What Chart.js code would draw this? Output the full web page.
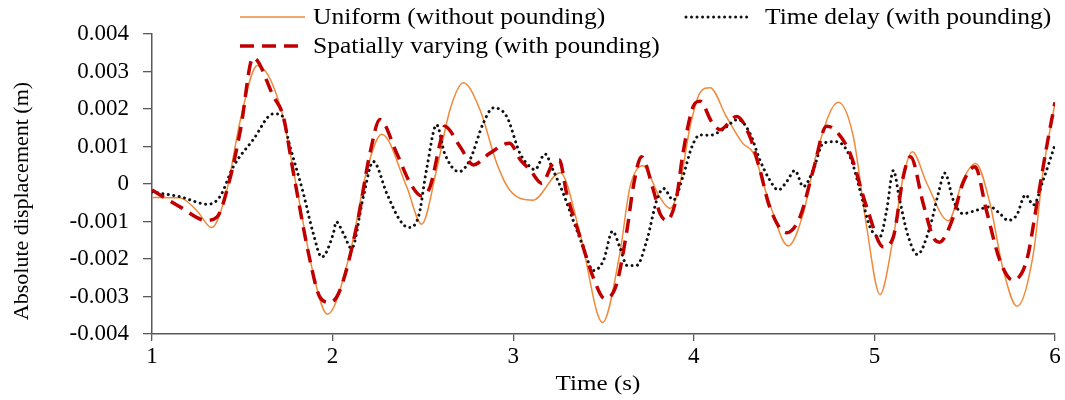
<!DOCTYPE html>
<html>
<head>
<meta charset="utf-8">
<script src="https://cdn.jsdelivr.net/npm/chart.js@4.4.1/dist/chart.umd.min.js"></script>
<style>
html,body{margin:0;padding:0;background:#fff;}
#wrap{width:1065px;height:400px;position:relative;}
</style>
</head>
<body>
<div id="wrap"><canvas id="c"></canvas></div>
<script>
// ---- data (time in s, absolute displacement in m) ----
const xTickValues = [1, 2, 3, 4, 5, 6];
const yTickLabels = ['-0.004', '-0.003', '-0.002', '-0.001', '0', '0.001', '0.002', '0.003', '0.004'];
const seriesNames = ['Uniform (without pounding)', 'Time delay (with pounding)', 'Spatially varying (with pounding)'];

const uniformT = [1.00, 1.155, 1.25, 1.33, 1.41, 1.49, 1.583, 1.71, 1.80, 1.893, 1.971, 2.096, 2.19, 2.272, 2.41, 2.493, 2.576, 2.65, 2.724, 2.816, 2.909, 2.98, 3.11, 3.26, 3.37, 3.495, 3.59, 3.647, 3.717, 3.81, 3.868, 3.92, 3.98, 4.034, 4.09, 4.18, 4.27, 4.33, 4.42, 4.523, 4.606, 4.68, 4.80, 4.883, 4.957, 5.031, 5.105, 5.16, 5.21, 5.29, 5.41, 5.49, 5.56, 5.64, 5.71, 5.79, 5.88, 5.935, 6.0];
const uniformY = [-0.00036, -0.00037, -0.00072, -0.00116, -0.00025, 0.00172, 0.00316, 0.00207, -0.00007, -0.00239, -0.00347, -0.00185, 0.00038, 0.00133, -0.00007, -0.00107, 0.00038, 0.00198, 0.00270, 0.00198, 0.00055, -0.00016, -0.00043, 0.00030, -0.00132, -0.00369, -0.00186, -0.00007, 0.00049, -0.00034, -0.00065, -0.00007, 0.00154, 0.00243, 0.00257, 0.00180, 0.00109, 0.00082, -0.00052, -0.00165, -0.00079, 0.00082, 0.00218, 0.00127, -0.00114, -0.00295, -0.00141, 0.00020, 0.00086, 0.00002, -0.00098, 0.00011, 0.00055, -0.00052, -0.00222, -0.00326, -0.00186, 0.00038, 0.00216];

const delayT = [1.00, 1.155, 1.31, 1.376, 1.45, 1.56, 1.672, 1.715, 1.764, 1.838, 1.893, 1.94, 2.004, 2.02, 2.06, 2.105, 2.17, 2.225, 2.30, 2.373, 2.42, 2.475, 2.52, 2.576, 2.62, 2.70, 2.76, 2.835, 2.89, 2.964, 3.037, 3.093, 3.12, 3.176, 3.22, 3.277, 3.332, 3.388, 3.443, 3.50, 3.55, 3.59, 3.63, 3.684, 3.74, 3.795, 3.832, 3.887, 3.94, 3.99, 4.034, 4.09, 4.16, 4.245, 4.31, 4.366, 4.42, 4.468, 4.514, 4.56, 4.606, 4.662, 4.717, 4.79, 4.865, 4.92, 4.975, 5.03, 5.068, 5.105, 5.14, 5.188, 5.238, 5.308, 5.354, 5.39, 5.437, 5.49, 5.566, 5.64, 5.695, 5.74, 5.788, 5.837, 5.88, 5.935, 6.0];
const delayY = [-0.00021, -0.00034, -0.00054, -0.00034, 0.00046, 0.00118, 0.00187, 0.00185, 0.00100, -0.00025, -0.00132, -0.00195, -0.00132, -0.00101, -0.00132, -0.00172, -0.00034, 0.00060, -0.00025, -0.00097, -0.00116, -0.00088, 0.00038, 0.00158, 0.00082, 0.00033, 0.00064, 0.00163, 0.00203, 0.00180, 0.00082, 0.00046, 0.00038, 0.00080, 0.00038, -0.00025, -0.00097, -0.00168, -0.00231, -0.00204, -0.00126, -0.00168, -0.00217, -0.00217, -0.00150, -0.00043, -0.00012, -0.00043, 0.00020, 0.00100, 0.00131, 0.00130, 0.00145, 0.00172, 0.00136, 0.00064, 0.00011, -0.00016, 0.00006, 0.00036, -0.00007, 0.00038, 0.00109, 0.00113, 0.00073, -0.00016, -0.00114, -0.00141, -0.00070, 0.00036, -0.00043, -0.00141, -0.00188, -0.00114, -0.00025, 0.00029, -0.00043, -0.00079, -0.00070, -0.00061, -0.00079, -0.00097, -0.00083, -0.00029, -0.00056, 0.00011, 0.00105];

const spatialT = [1.00, 1.155, 1.30, 1.36, 1.43, 1.49, 1.56, 1.672, 1.727, 1.78, 1.875, 1.93, 1.986, 2.04, 2.133, 2.207, 2.262, 2.355, 2.43, 2.493, 2.54, 2.595, 2.62, 2.705, 2.78, 2.87, 2.98, 3.04, 3.093, 3.158, 3.22, 3.255, 3.296, 3.37, 3.443, 3.508, 3.573, 3.63, 3.665, 3.71, 3.776, 3.813, 3.85, 3.905, 3.94, 3.997, 4.034, 4.10, 4.145, 4.237, 4.31, 4.366, 4.42, 4.514, 4.588, 4.662, 4.735, 4.78, 4.865, 4.957, 5.05, 5.105, 5.16, 5.20, 5.27, 5.325, 5.36, 5.43, 5.49, 5.557, 5.62, 5.695, 5.766, 5.843, 5.90, 5.954, 6.0];
const spatialY = [-0.00016, -0.00061, -0.00097, -0.00088, 0.00011, 0.00145, 0.00337, 0.00234, 0.00180, 0.00038, -0.00204, -0.00302, -0.00316, -0.00284, -0.00114, 0.00082, 0.00172, 0.00082, 0.00002, -0.00032, -0.00007, 0.00109, 0.00154, 0.00100, 0.00051, 0.00082, 0.00109, 0.00064, 0.00038, 0.00002, 0.00055, 0.00064, -0.00025, -0.00141, -0.00249, -0.00306, -0.00266, -0.00123, -0.00007, 0.00073, -0.00016, -0.00079, -0.00097, -0.00034, 0.00082, 0.00207, 0.00221, 0.00165, 0.00145, 0.00180, 0.00127, 0.00038, -0.00061, -0.00130, -0.00088, 0.00038, 0.00154, 0.00145, 0.00082, -0.00061, -0.00168, -0.00141, 0.00020, 0.00073, -0.00052, -0.00141, -0.00155, -0.00097, 0.00002, 0.00046, -0.00070, -0.00204, -0.00256, -0.00204, -0.00052, 0.00100, 0.00218];

const toPts = (xs, ys) => xs.map((x, i) => ({ x: x, y: ys[i] }));

const FONT = '"Liberation Serif", "Times New Roman", serif';
const AXIS_COLOR = '#595959';

function stretchedText(ctx, text, x, y, size, sx, align) {
  ctx.save();
  ctx.translate(x, y);
  ctx.scale(sx, 1);
  ctx.font = size + 'px ' + FONT;
  ctx.fillStyle = '#000';
  ctx.textAlign = align;
  ctx.textBaseline = 'middle';
  ctx.fillText(text, 0, 0);
  ctx.restore();
}

const decorPlugin = {
  id: 'decor',
  afterDraw(chart) {
    const ctx = chart.ctx;
    const ds = chart.data.datasets;
    // legend
    const items = [
      { d: ds[0], x0: 240, x1: 305, y: 17, tx: 313 },
      { d: ds[1], x0: 686, x1: 752, y: 17, tx: 765 },
      { d: ds[2], x0: 240, x1: 305, y: 46, tx: 313 }
    ];
    items.forEach(it => {
      ctx.save();
      ctx.strokeStyle = it.d.borderColor;
      ctx.lineWidth = it.d.borderWidth;
      ctx.setLineDash(it.d.borderDash || []);
      ctx.lineCap = it.d.borderCapStyle || 'butt';
      ctx.beginPath();
      ctx.moveTo(it.x0, it.y);
      ctx.lineTo(it.x1, it.y);
      ctx.stroke();
      ctx.restore();
      stretchedText(ctx, it.d.label, it.tx, it.y + 1, 23, 1.11, 'left');
    });
    // axis titles
    stretchedText(ctx, 'Time (s)', 598, 384, 22, 1.14, 'center');
    ctx.save();
    ctx.translate(22, 201);
    ctx.rotate(-Math.PI / 2);
    ctx.font = '22px ' + FONT;
    ctx.fillStyle = '#000';
    ctx.textAlign = 'center';
    ctx.textBaseline = 'middle';
    ctx.fillText('Absolute displacement (m)', 0, 0);
    ctx.restore();
  }
};

new Chart(document.getElementById('c'), {
  type: 'line',
  data: {
    datasets: [
      {
        label: seriesNames[0],
        data: toPts(uniformT, uniformY),
        borderColor: '#F08A3C',
        borderWidth: 1.5,
        pointRadius: 0,
        cubicInterpolationMode: 'monotone',
        fill: false,
        order: 3
      },
      {
        label: seriesNames[1],
        data: toPts(delayT, delayY),
        borderColor: '#111111',
        borderWidth: 3,
        borderDash: [0.01, 5.5],
        borderCapStyle: 'round',
        pointRadius: 0,
        cubicInterpolationMode: 'monotone',
        fill: false,
        order: 2
      },
      {
        label: seriesNames[2],
        data: toPts(spatialT, spatialY),
        borderColor: '#C00000',
        borderWidth: 3.5,
        borderDash: [14, 8],
        pointRadius: 0,
        cubicInterpolationMode: 'monotone',
        fill: false,
        order: 1
      }
    ]
  },
  options: {
    responsive: true,
    maintainAspectRatio: false,
    animation: false,
    devicePixelRatio: 1,
    layout: { padding: { left: 0, right: 10, top: 34, bottom: 0 } },
    plugins: { legend: { display: false }, tooltip: { enabled: false }, title: { display: false } },
    scales: {
      x: {
        type: 'linear',
        min: xTickValues[0],
        max: xTickValues[xTickValues.length - 1],
        afterBuildTicks: (s) => { s.ticks = xTickValues.map(v => ({ value: v })); },
        ticks: { color: '#000', font: { family: FONT, size: 23 }, padding: 2, maxRotation: 0, callback: (v) => String(v) },
        grid: { display: true, drawOnChartArea: false, drawTicks: true, tickLength: 7, color: AXIS_COLOR, lineWidth: 1.3 },
        border: { display: true, color: AXIS_COLOR, width: 1.5 },
        afterFit: (s) => { s.height = 66; }
      },
      y: {
        type: 'linear',
        min: -0.004,
        max: 0.004,
        afterBuildTicks: (s) => { s.ticks = yTickLabels.map(t => ({ value: parseFloat(t) })); },
        ticks: { color: '#000', font: { family: FONT, size: 23 }, padding: 14, callback: (v, i) => yTickLabels[i] },
        grid: { display: true, drawOnChartArea: false, drawTicks: true, tickLength: 9, color: AXIS_COLOR, lineWidth: 1.3 },
        border: { display: true, color: AXIS_COLOR, width: 1.5 },
        afterFit: (s) => { s.width = 152; }
      }
    }
  },
  plugins: [decorPlugin]
});
</script>
</body>
</html>
